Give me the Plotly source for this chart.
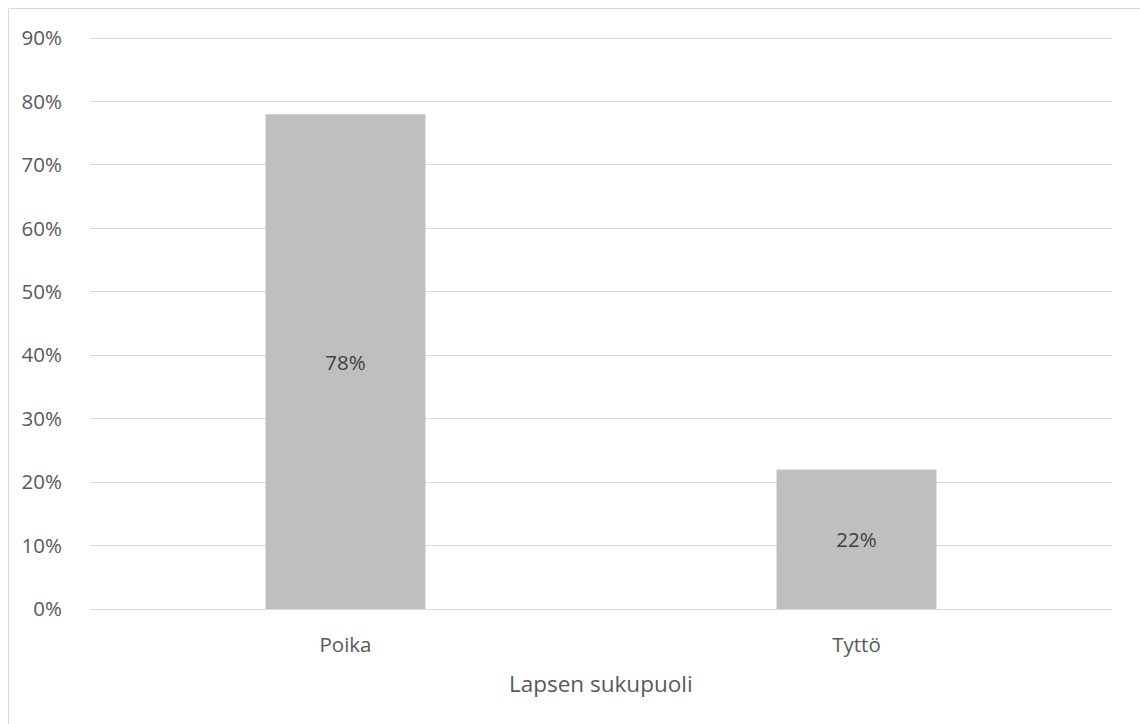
import plotly.graph_objects as go

categories = ["Poika", "Tyttö"]
values = [0.78, 0.22]
labels = ["78%", "22%"]
y_ticks = [0, 0.1, 0.2, 0.3, 0.4, 0.5, 0.6, 0.7, 0.8, 0.9]
x_title = "Lapsen sukupuoli"

W, H = 1140, 724
L, R, T, B = 90, 28, 36, 115
pw, ph = W - L - R, H - T - B
FS = 20.5
y_top = 0.9 * ph / (609 - 38)

fig = go.Figure(go.Bar(
    x=categories, y=values, text=labels,
    textposition="inside", insidetextanchor="middle",
    textfont=dict(family="Open Sans", size=FS, color="#404040"),
    marker=dict(color="#BFBFBF", line=dict(width=0)),
    hoverinfo="skip",
))

fig.update_layout(
    width=W, height=H,
    margin=dict(l=L, r=R, t=T, b=B, pad=0),
    paper_bgcolor="white", plot_bgcolor="white",
    bargap=0.687,
    showlegend=False,
    font=dict(family="Open Sans", color="#595959", size=FS),
    xaxis=dict(
        tickfont=dict(size=FS, color="#595959"),
        showgrid=False, showline=False,
        ticks="outside", ticklen=17, tickcolor="rgba(0,0,0,0)",
    ),
    yaxis=dict(
        range=[0, y_top], tickvals=y_ticks, tickformat=".0%",
        tickfont=dict(size=FS, color="#595959"),
        showgrid=True, gridcolor="#D9D9D9", gridwidth=1,
        zeroline=True, zerolinecolor="#D9D9D9", zerolinewidth=1,
        showline=False, ticks="outside", ticklen=23, tickcolor="rgba(0,0,0,0)",
    ),
    annotations=[dict(
        text=x_title, xref="paper", yref="paper",
        x=0.5, y=(T + ph - 683) / ph,
        xanchor="center", yanchor="middle", showarrow=False,
        font=dict(family="Open Sans", size=22.5, color="#595959"),
    )],
    shapes=[dict(
        type="rect", xref="paper", yref="paper",
        x0=(8.5 - L) / pw, x1=(W + 10 - L) / pw,
        y0=(T + ph - (H + 10)) / ph, y1=(T + ph - 8.5) / ph,
        line=dict(color="#D9D9D9", width=1), fillcolor="rgba(0,0,0,0)", layer="below",
    )],
)

fig.write_html("out.html")
